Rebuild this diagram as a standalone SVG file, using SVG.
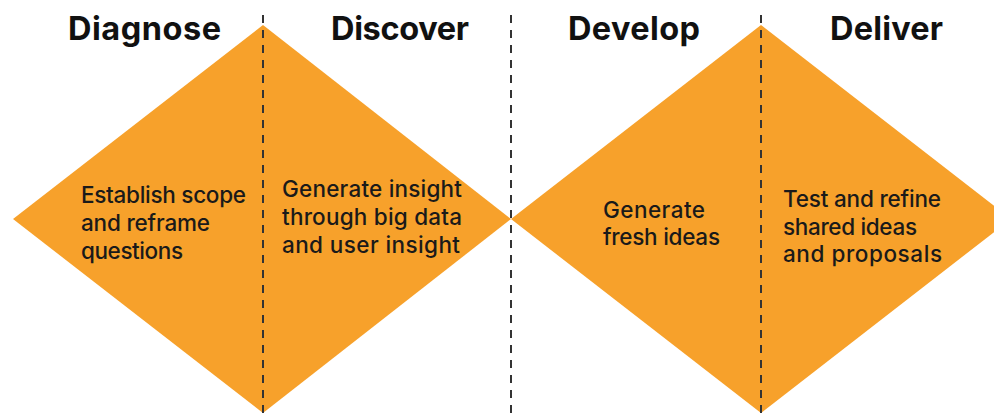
<svg xmlns="http://www.w3.org/2000/svg" width="994" height="420" viewBox="0 0 994 420">
<style>
.shape{fill:#F7A12B;stroke:none}
.div{stroke:#333;stroke-width:2;stroke-dasharray:8 7;fill:none}
.title{font-family:Inter,"Liberation Sans",sans-serif;font-weight:700;font-size:32.5px;fill:#111}
.body{font-family:Inter,"Liberation Sans",sans-serif;font-weight:500;font-size:22.5px;fill:#1a1a1a}
</style>
<rect width="994" height="420" fill="#fff"/>
<g id="diamond-left"><polygon class="shape" points="13,219 263,25 511,219 263,413"/></g>
<g id="diamond-right"><polygon class="shape" points="511,219 761,25 1011,219 761,413"/></g>
<g id="connectors">
<line class="div" x1="263" y1="15" x2="263" y2="420"/>
<line class="div" x1="511" y1="15" x2="511" y2="420"/>
<line class="div" x1="761" y1="15" x2="761" y2="420"/>
</g>
<g id="diagnose">
<text class="title" x="68" y="40" textLength="153">Diagnose</text>
<text class="body" x="81" y="203" textLength="165">Establish scope</text>
<text class="body" x="81" y="231" textLength="129">and reframe</text>
<text class="body" x="81" y="259" textLength="102">questions</text>
</g>
<g id="discover">
<text class="title" x="331" y="40" textLength="138">Discover</text>
<text class="body" x="282" y="197" textLength="180">Generate insight</text>
<text class="body" x="282" y="225" textLength="180">through big data</text>
<text class="body" x="282" y="253" textLength="178">and user insight</text>
</g>
<g id="develop">
<text class="title" x="568" y="40" textLength="132">Develop</text>
<text class="body" x="603" y="218" textLength="102">Generate</text>
<text class="body" x="603" y="245" textLength="117">fresh ideas</text>
</g>
<g id="deliver">
<text class="title" x="830" y="40" textLength="113">Deliver</text>
<text class="body" x="783" y="207" textLength="158">Test and refine</text>
<text class="body" x="783" y="235" textLength="134">shared ideas</text>
<text class="body" x="783" y="262" textLength="159">and proposals</text>
</g>
</svg>
